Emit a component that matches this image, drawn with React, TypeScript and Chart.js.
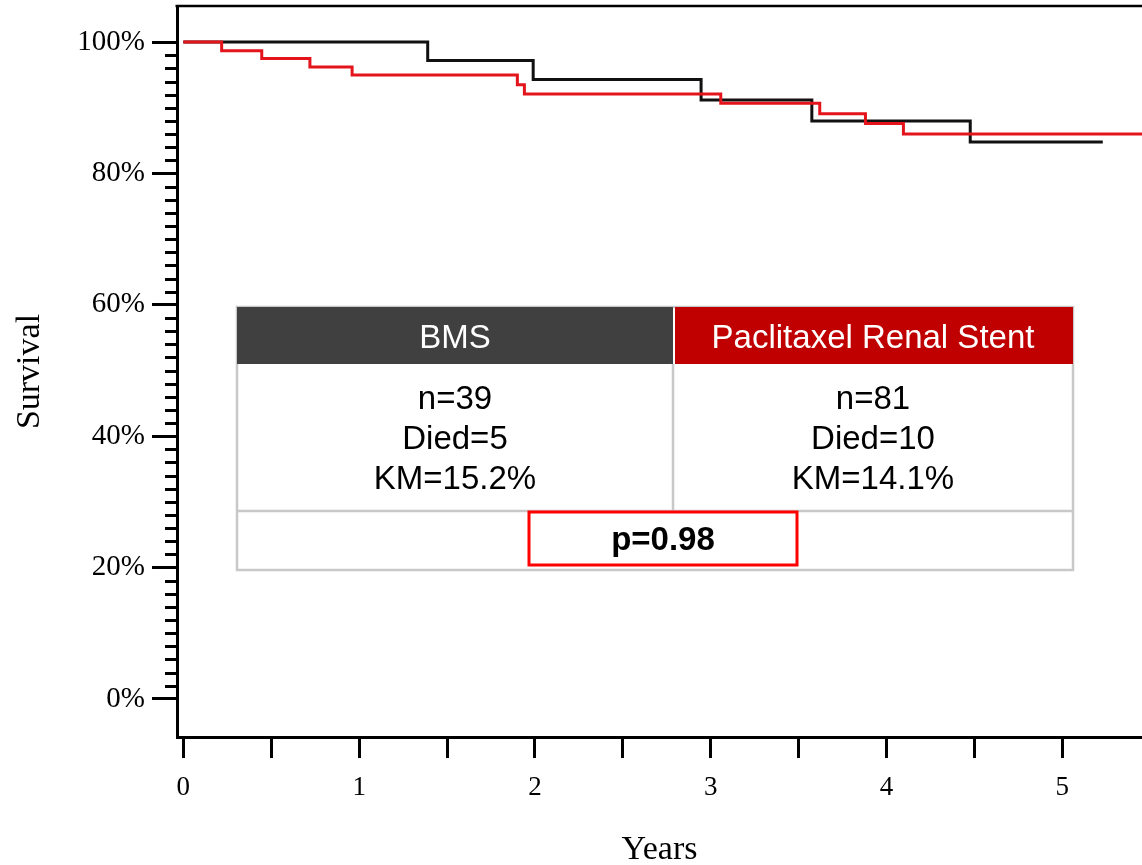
import React, { useEffect, useRef } from "react";
import { Chart, registerables } from "chart.js";

Chart.register(...registerables);

// ---- Data ----
const bmsTimes = [0, 1.39, 1.99, 2.945, 3.575, 4.476, 5.23];
const bmsSurv = [100, 97.2, 94.3, 91.2, 88.0, 84.8, 84.8];
const paclTimes = [0, 0.218, 0.446, 0.72, 0.96, 1.9, 1.94, 3.057, 3.62, 3.88, 4.096, 5.6];
const paclSurv = [100, 98.7, 97.5, 96.2, 95.0, 93.5, 92.1, 90.7, 89.1, 87.6, 86.0, 86.0];

const xTicks = [0, 0.5, 1, 1.5, 2, 2.5, 3, 3.5, 4, 4.5, 5];
const yTicks = Array.from({ length: 51 }, (_, i) => i * 2); // 0..100 step 2 (tick marks)
const yMajorStep = 20;

const groupNames = ["BMS", "Paclitaxel Renal Stent"];
const groupN = [39, 81];
const groupDied = [5, 10];
const groupKM = ["15.2%", "14.1%"];
const pValue = "0.98";

const BLACK = "#111111";
const RED = "#e3141c";
const SERIF = "'Liberation Serif', 'Times New Roman', serif";
const SANS = "'Liberation Sans', Arial, sans-serif";

const overlayPlugin = {
  id: "overlay",
  afterDraw(chart: any) {
    const { ctx, chartArea } = chart;
    const yScale = chart.scales.y;
    ctx.save();
    // top border
    ctx.strokeStyle = "#000";
    ctx.lineWidth = 2.5;
    ctx.beginPath();
    ctx.moveTo(chartArea.left - 1.5, chartArea.top);
    ctx.lineTo(chartArea.right, chartArea.top);
    ctx.stroke();
    // minor y ticks
    ctx.lineWidth = 3;
    yTicks.forEach((v) => {
      if (v % yMajorStep === 0) return;
      const py = Math.round(yScale.getPixelForValue(v)) + 0.5;
      ctx.beginPath();
      ctx.moveTo(chartArea.left - 12, py);
      ctx.lineTo(chartArea.left, py);
      ctx.stroke();
    });

    // ---- table ----
    const L = 237, R = 1073, M = 673, T = 307, H = 364, B1 = 511, B2 = 570;
    ctx.fillStyle = "#fff";
    ctx.fillRect(L, T, R - L, B2 - T);
    ctx.strokeStyle = "#c8c8c8";
    ctx.lineWidth = 2.5;
    ctx.strokeRect(L, T, R - L, B2 - T);
    ctx.beginPath();
    ctx.moveTo(L, B1);
    ctx.lineTo(R, B1);
    ctx.moveTo(M, H);
    ctx.lineTo(M, B1);
    ctx.stroke();
    // headers
    ctx.fillStyle = "#404040";
    ctx.fillRect(L, T, M - L, H - T);
    ctx.fillStyle = "#c00000";
    ctx.fillRect(M + 2, T, R - M - 2, H - T);
    ctx.textAlign = "center";
    ctx.textBaseline = "middle";
    ctx.font = `33px ${SANS}`;
    ctx.fillStyle = "#fff";
    const centers = [(L + M) / 2, (M + R) / 2];
    groupNames.forEach((g, i) => ctx.fillText(g, centers[i], 339));
    ctx.fillStyle = "#000";
    centers.forEach((cx, i) => {
      ctx.fillText(`n=${groupN[i]}`, cx, 400);
      ctx.fillText(`Died=${groupDied[i]}`, cx, 440);
      ctx.fillText(`KM=${groupKM[i]}`, cx, 480);
    });
    // p box
    ctx.strokeStyle = "#ff0000";
    ctx.lineWidth = 3;
    ctx.fillStyle = "#fff";
    ctx.fillRect(529, 512, 268, 53);
    ctx.strokeRect(529, 512, 268, 53);
    ctx.fillStyle = "#000";
    ctx.font = `bold 33px ${SANS}`;
    ctx.fillText(`p=${pValue}`, 663, 541);
    ctx.restore();
  },
};

export default function App() {
  const ref = useRef<HTMLCanvasElement>(null);
  useEffect(() => {
    if (!ref.current) return;
    const chart = new Chart(ref.current, {
      type: "line",
      data: {
        datasets: [
          {
            label: "Paclitaxel Renal Stent",
            data: paclTimes.map((t, i) => ({ x: t, y: paclSurv[i] })),
            borderColor: RED,
            borderWidth: 3,
            stepped: "before",
            pointRadius: 0,
            fill: false,
          },
          {
            label: "BMS",
            data: bmsTimes.map((t, i) => ({ x: t, y: bmsSurv[i] })),
            borderColor: BLACK,
            borderWidth: 3,
            stepped: "before",
            pointRadius: 0,
            fill: false,
          },
        ],
      },
      options: {
        animation: false,
        responsive: false,
        maintainAspectRatio: false,
        layout: { padding: { top: 6, left: 0, right: 0, bottom: 0 } },
        plugins: { legend: { display: false }, tooltip: { enabled: false } },
        scales: {
          x: {
            type: "linear",
            min: -0.036,
            max: 5.453,
            afterBuildTicks: (s: any) => {
              s.ticks = xTicks.map((v) => ({ value: v }));
            },
            afterFit: (s: any) => {
              s.height = 128;
              s.paddingLeft = 0;
              s.paddingRight = 0;
            },
            ticks: {
              autoSkip: false,
              maxRotation: 0,
              padding: 14,
              color: "#000",
              font: { family: SERIF, size: 27 },
              callback: (v: any) => (Number.isInteger(v) ? String(v) : ""),
            },
            grid: { drawOnChartArea: false, drawTicks: true, tickLength: 21, tickWidth: 3, tickColor: "#000" },
            border: { display: true, color: "#000", width: 3 },
            title: {
              display: true,
              text: "Years",
              color: "#000",
              font: { family: SERIF, size: 34, lineHeight: 0.9 },
              padding: { top: 0, bottom: 0 },
            },
          },
          y: {
            type: "linear",
            min: -5.8,
            max: 105.5,
            afterBuildTicks: (s: any) => {
              s.ticks = yTicks.map((v) => ({ value: v }));
            },
            afterFit: (s: any) => {
              s.width = 177;
              s.paddingTop = 0;
              s.paddingBottom = 0;
            },
            ticks: {
              autoSkip: false,
              padding: 7,
              color: "#000",
              font: { family: SERIF, size: 29 },
              callback: (v: any) => (v % yMajorStep === 0 ? `${v}%` : ""),
            },
            grid: {
              drawOnChartArea: false,
              drawTicks: true,
              tickLength: 25,
              tickWidth: 3,
              tickColor: (c: any) => (c.tick && c.tick.value % yMajorStep === 0 ? "#000" : "rgba(0,0,0,0)"),
            },
            border: { display: true, color: "#000", width: 3 },
            title: {
              display: true,
              text: "Survival",
              color: "#000",
              font: { family: SERIF, size: 34 },
              padding: { top: 10, bottom: 0 },
            },
          },
        },
      },
      plugins: [overlayPlugin],
    });
    return () => chart.destroy();
  }, []);
  return (
    <div>
      <style>{`body{margin:0;overflow:hidden;background:#fff}`}</style>
      <canvas ref={ref} width={1142} height={865} style={{ display: "block" }} />
    </div>
  );
}
